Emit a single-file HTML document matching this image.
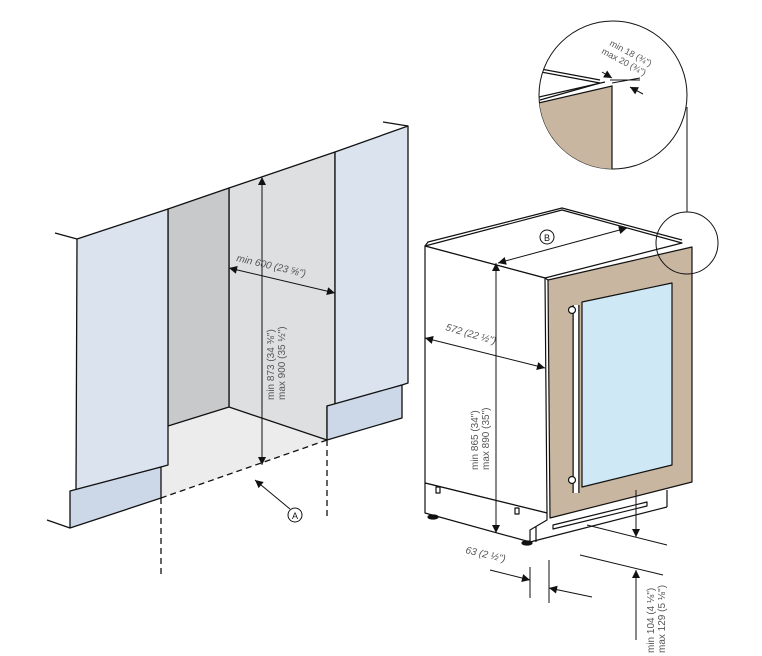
<!DOCTYPE html>
<html><head><meta charset="utf-8"><style>
html,body{margin:0;padding:0;background:#fff;}
svg{display:block;}
text{font-family:"Liberation Sans",sans-serif;fill:#555;font-size:10px;}
</style></head><body>
<svg width="762" height="656" viewBox="0 0 762 656" xmlns="http://www.w3.org/2000/svg">
<defs>
<marker id="ah" viewBox="0 0 10 10" refX="10" refY="5" markerWidth="14" markerHeight="8" orient="auto-start-reverse" markerUnits="userSpaceOnUse"><path d="M0,0 L10,5 L0,10 z" fill="#111"/></marker>
<clipPath id="cc"><circle cx="613" cy="95" r="74"/></clipPath>
</defs>
<g stroke="#111" stroke-width="1.3" stroke-linejoin="round">
<polygon points="168,426 229,407 327,440 161,498 161,467 168,465" fill="#ececec" stroke="none"/>
<polygon points="229,188 335,152 335,405 327,406 327,440 229,407" fill="#dedfe0"/>
<polygon points="168,209 229,188 229,407 168,426" fill="#c8c9ca"/>
<polygon points="77,239 168,209 168,465 161,467 76,492" fill="#dbe3ef"/>
<polygon points="70,491 161,467 161,498 70,528" fill="#ccd8e8"/>
<polygon points="335,152 408,126 408,383 402,385 335,405" fill="#dbe3ef"/>
<polygon points="327,406 402,385 402,418 327,440" fill="#ccd8e8"/>
<line x1="55" y1="233" x2="77" y2="239"/>
<line x1="383" y1="122" x2="408" y2="126"/>
<line x1="47" y1="520" x2="70" y2="528"/>
<line x1="327" y1="440" x2="161" y2="498" stroke-dasharray="6,4" fill="none"/>
<line x1="161" y1="498" x2="161" y2="578" stroke-dasharray="6,4"/>
<line x1="327" y1="440" x2="327" y2="517" stroke-dasharray="6,4"/>
</g>
<g stroke="#111" stroke-width="1" fill="none">
<line x1="262" y1="177" x2="262" y2="465" marker-start="url(#ah)" marker-end="url(#ah)"/>
<line x1="229" y1="268" x2="335" y2="293" marker-start="url(#ah)" marker-end="url(#ah)"/>
<line x1="290" y1="509" x2="255" y2="480" marker-end="url(#ah)"/>
<circle cx="295" cy="515" r="7" fill="#fff"/>
</g>
<text x="295" y="519" text-anchor="middle" style="font-size:9px;fill:#111">A</text>
<text transform="translate(236,261) rotate(13)" style="font-style:italic">min 600 (23 ⅝")</text>
<text transform="translate(274,400) rotate(-90)">min 873 (34 ⅜")</text>
<text transform="translate(285,400) rotate(-90)">max 900 (35 ½")</text>

<g stroke="#111" stroke-width="1.2" stroke-linejoin="round">
<polygon points="425,246 562,210 682,243 545,278" fill="#fff"/>
<polyline points="425,246 428,242 562,208 682,240" fill="none"/>
<polygon points="425,246 545,278 547,513 425,483" fill="#fff"/>
<polygon points="425,483 547,513 547,520 530,530 530,542 425,513" fill="#fff"/>
<line x1="530" y1="542" x2="667" y2="507"/>
<line x1="667" y1="490" x2="667" y2="507"/>
<line x1="536" y1="527" x2="536" y2="542"/>
<ellipse cx="433" cy="517" rx="5" ry="2" fill="#111"/>
<ellipse cx="527" cy="543" rx="5" ry="2" fill="#111"/>
<rect x="436" y="487" width="4" height="6" fill="#fff"/>
<rect x="515" y="508" width="4" height="6" fill="#fff"/>
<polygon points="548,280 692,247 692,482 550,518" fill="#c8b6a0"/>
<line x1="545" y1="278" x2="548" y2="280"/>
<polygon points="582,302 672,283 672,465 582,487" fill="#cfe8f6"/>
<polygon points="553,525 647,502 647,506 553,529" fill="#fff"/>
<line x1="576" y1="305" x2="576" y2="493" stroke="#111" stroke-width="7"/>
<line x1="576" y1="305" x2="576" y2="493" stroke="#fff" stroke-width="4.5"/>
<circle cx="572" cy="310" r="3.5" fill="#fff"/>
<circle cx="572" cy="480" r="3.5" fill="#fff"/>
</g>
<g stroke="#111" stroke-width="1" fill="none">
<line x1="496" y1="263" x2="496" y2="533" marker-start="url(#ah)" marker-end="url(#ah)"/>
<line x1="425" y1="338" x2="545" y2="368" marker-start="url(#ah)" marker-end="url(#ah)"/>
<line x1="498" y1="263" x2="627" y2="228" marker-start="url(#ah)" marker-end="url(#ah)"/>
<circle cx="547" cy="237" r="7" fill="#fff"/>
<line x1="530" y1="567" x2="530" y2="598"/>
<line x1="549" y1="560" x2="549" y2="603"/>
<line x1="490" y1="570" x2="530" y2="580" marker-end="url(#ah)"/>
<line x1="592" y1="597" x2="549" y2="588" marker-end="url(#ah)"/>
<line x1="636" y1="490" x2="636" y2="537" marker-end="url(#ah)"/>
<line x1="587" y1="525" x2="667" y2="545"/>
<line x1="580" y1="555" x2="663" y2="575"/>
<line x1="636" y1="640" x2="636" y2="570" marker-end="url(#ah)"/>
<circle cx="687" cy="243" r="31"/>
<line x1="687" y1="107" x2="687" y2="212"/>
</g>
<text x="547" y="241" text-anchor="middle" style="font-size:9px;fill:#111">B</text>
<text transform="translate(445,330) rotate(16)" style="font-style:italic">572 (22 ½")</text>
<text transform="translate(478,470) rotate(-90)">min 865 (34")</text>
<text transform="translate(489,470) rotate(-90)">max 890 (35")</text>
<text transform="translate(465,553) rotate(13)" style="font-style:italic">63 (2 ½")</text>
<text transform="translate(654,653) rotate(-90)">min 104 (4 ⅛")</text>
<text transform="translate(665,653) rotate(-90)">max 129 (5 ⅛")</text>

<circle cx="613" cy="95" r="74" fill="#fff" stroke="#111" stroke-width="1"/>
<g clip-path="url(#cc)" stroke="#111" stroke-width="1.2">
<polygon points="530,105 612,86 612,180 530,180" fill="#c8b6a0"/>
<line x1="530" y1="99" x2="605" y2="82"/>
<polyline points="530,70 600,83 540,100" fill="none"/>
<line x1="530" y1="67" x2="600" y2="80"/>
</g>
<g stroke="#111" stroke-width="1" fill="none">
<line x1="610" y1="80" x2="640" y2="80"/>
<line x1="612" y1="83" x2="640" y2="78"/>
<line x1="602" y1="72" x2="612" y2="78" marker-end="url(#ah)"/>
<line x1="643" y1="94" x2="630" y2="87" marker-end="url(#ah)"/>
</g>
<text transform="translate(609,45) rotate(28)" style="font-size:9px">min 18 (¾")</text>
<text transform="translate(601,53) rotate(28)" style="font-size:9px">max 20 (¾")</text>
</svg>
</body></html>
